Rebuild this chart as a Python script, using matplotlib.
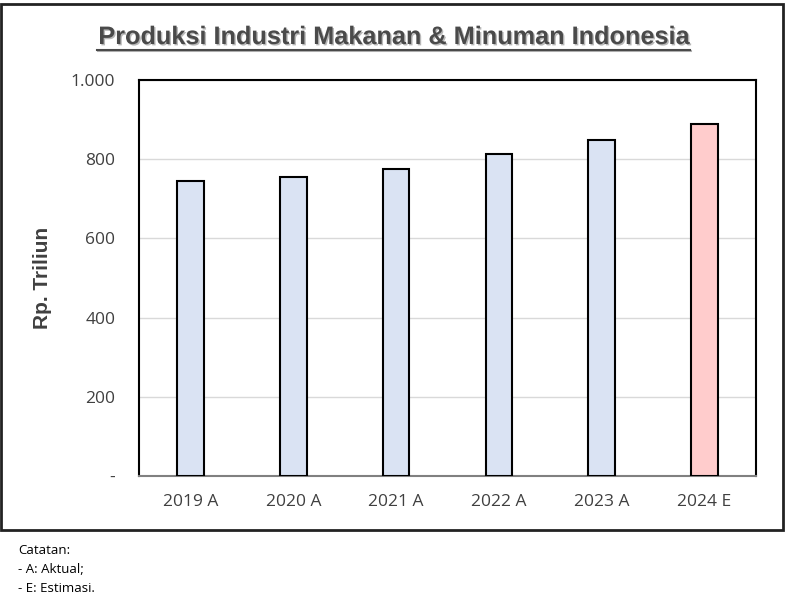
import matplotlib.pyplot as plt
import matplotlib.patheffects as pe
from matplotlib.patches import Rectangle

categories = ['2019 A', '2020 A', '2021 A', '2022 A', '2023 A', '2024 E']
values = [744, 756, 775, 814, 849, 888]
bar_colors = ['#dae3f3', '#dae3f3', '#dae3f3', '#dae3f3', '#dae3f3', '#ffcccc']
yticks = [0, 200, 400, 600, 800, 1000]
ytick_labels = ['-', '200', '400', '600', '800', '1.000']
notes = ['Catatan:', '- A: Aktual;', '- E: Estimasi.']

fig = plt.figure(figsize=(7.88, 5.97), dpi=100)
W, H = 788, 597

# outer chart border
fig.patches.append(Rectangle((1 / W, 1 - 530 / H), 782 / W, 526 / H,
                             transform=fig.transFigure, fill=False,
                             edgecolor='#222222', linewidth=2))

ax = fig.add_axes([139 / W, 1 - 476 / H, 617 / W, 396 / H])
x = range(len(categories))
ax.bar(x, values, width=0.26, color=bar_colors, edgecolor='black',
       linewidth=1.5, zorder=3)
ax.set_xlim(-0.5, len(categories) - 0.5)
ax.set_ylim(0, 1000)
ax.set_yticks(yticks)
ax.set_yticklabels(ytick_labels)
ax.set_xticks(list(x))
ax.set_xticklabels(categories)
ax.tick_params(axis='both', length=0, labelsize=12.5, colors='#404040')
ax.tick_params(axis='x', pad=13)
ax.tick_params(axis='y', pad=17)
for lab in ax.get_xticklabels() + ax.get_yticklabels():
    lab.set_family('Open Sans')
ax.grid(axis='y', color='#d9d9d9', linewidth=1, zorder=0)
for side in ['left', 'top', 'right']:
    ax.spines[side].set_color('black')
    ax.spines[side].set_linewidth(1.5)
ax.spines['bottom'].set_color('#808080')
ax.spines['bottom'].set_linewidth(1.5)

ax.set_ylabel('Rp. Triliun', fontsize=15, fontweight='bold', color='#404040',
              family='Liberation Sans')
ax.yaxis.set_label_coords(-(139 - 52) / 617, 0.5)

shadow = [pe.SimplePatchShadow(offset=(1, -1), alpha=0.3), pe.Normal()]
title = fig.text(394 / W, 1 - 37 / H, 'Produksi Industri Makanan & Minuman Indonesia',
                 ha='center', va='center', fontsize=18.2, fontweight='bold',
                 color='#4a4a4a', family='Liberation Sans')
title.set_path_effects(shadow)
# underline under the title
uline = plt.Line2D([97 / W, 690 / W], [1 - 50 / H, 1 - 50 / H],
                   transform=fig.transFigure, color='#4a4a4a', linewidth=1.5)
uline.set_path_effects([pe.SimpleLineShadow(offset=(1, -1), alpha=0.3), pe.Normal()])
fig.lines.append(uline)

for i, t in enumerate(notes):
    fig.text(18 / W, 1 - (550 + i * 19.5) / H, t, ha='left', va='center',
             fontsize=9.5, family='Open Sans', color='black')

fig.savefig('out.png', dpi=100)
